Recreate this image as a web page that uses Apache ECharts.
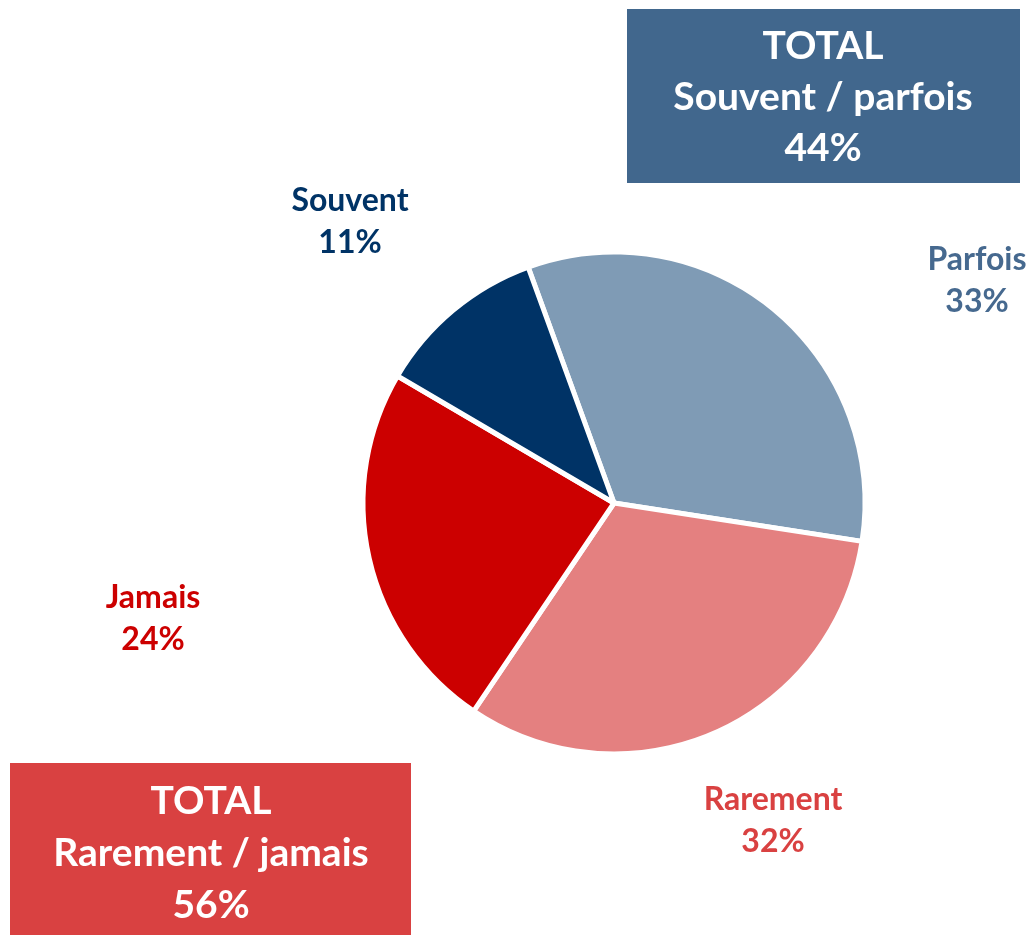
<!DOCTYPE html>
<html>
<head>
<meta charset="utf-8">
<script src="https://cdn.jsdelivr.net/npm/echarts@6/dist/echarts.min.js"></script>
<style>
  html, body { margin: 0; padding: 0; background: #fff; }
  #chart { width: 1026px; height: 935px; }
</style>
</head>
<body>
<div id="chart"></div>
<script>
'use strict';

// slices, in clockwise order starting at the top
var categories = ['Parfois', 'Rarement', 'Jamais', 'Souvent'];
var values = [33, 32, 24, 11];
var sliceColors = ['#7f9bb5', '#e48080', '#cc0000', '#003366'];
var labelColors = ['#46698f', '#d94141', '#cc0000', '#003366'];

var totalTitles = ['Souvent / parfois', 'Rarement / jamais'];
var totalValues = [44, 56];

var FONT = 'Lato, "Open Sans", sans-serif';

// where each slice label sits (center of the text block)
var labelSpots = [[977, 281], [773, 821], [153, 619], [350, 222]];

function renderPie(chartDivId) {
    var chart = echarts.init(document.getElementById(chartDivId));

    var data = [];
    for (var i = 0; i < categories.length; i++) {
        data.push({
            name: categories[i],
            value: values[i],
            itemStyle: { color: sliceColors[i] },
            label: { color: labelColors[i] }
        });
    }

    var options = {
        animation: false,
        series: [
            {
                type: 'pie',
                center: [614, 503],
                radius: 251,
                startAngle: 110,
                clockwise: true,
                data: data,
                itemStyle: {
                    borderColor: '#ffffff',
                    borderWidth: 5
                },
                label: {
                    show: true,
                    position: 'outside',
                    formatter: '{b}\n{c}%',
                    fontFamily: FONT,
                    fontWeight: 'bold',
                    fontSize: 32,
                    lineHeight: 42,
                    align: 'center'
                },
                labelLine: { show: false },
                labelLayout: function (params) {
                    var p = labelSpots[params.dataIndex];
                    return {
                        x: p[0],
                        y: p[1],
                        align: 'center',
                        verticalAlign: 'middle'
                    };
                }
            }
        ],
        graphic: [
            {
                type: 'rect',
                shape: { x: 627, y: 9, width: 393, height: 174 },
                style: { fill: '#41678d' }
            },
            {
                type: 'text',
                x: 823,
                y: 97,
                style: {
                    text: 'TOTAL\n' + totalTitles[0] + '\n' + totalValues[0] + '%',
                    fill: '#ffffff',
                    font: 'bold 39px ' + FONT,
                    lineHeight: 51,
                    align: 'center',
                    verticalAlign: 'middle'
                }
            },
            {
                type: 'rect',
                shape: { x: 10, y: 763, width: 401, height: 172 },
                style: { fill: '#d94141' }
            },
            {
                type: 'text',
                x: 211,
                y: 853,
                style: {
                    text: 'TOTAL\n' + totalTitles[1] + '\n' + totalValues[1] + '%',
                    fill: '#ffffff',
                    font: 'bold 39px ' + FONT,
                    lineHeight: 52,
                    align: 'center',
                    verticalAlign: 'middle'
                }
            }
        ]
    };

    chart.setOption(options);
}

renderPie('chart');
</script>
</body>
</html>
